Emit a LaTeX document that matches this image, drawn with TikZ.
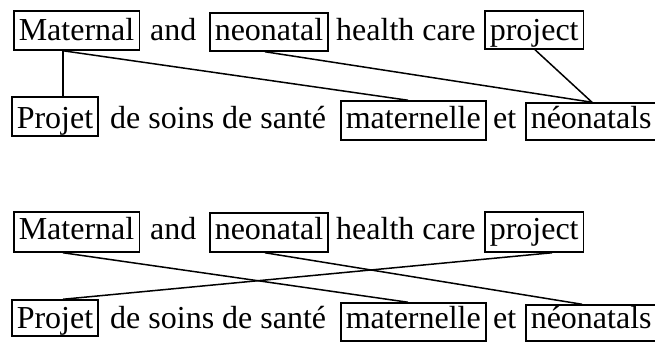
\documentclass[tikz,border=0pt]{standalone}
\usepackage{fontspec}
\setmainfont{Liberation Serif}
\begin{document}
\begin{tikzpicture}[x=1pt,y=-1pt,
  wordfont/.style={font=\fontsize{32}{38}\selectfont},
  plain/.style={wordfont,inner sep=0pt,anchor=base west},
  % boxed word: #1 = frame height above the baseline, #2 = depth below it
  wbox/.style 2 args={wordfont,draw,line width=1.5pt,inner xsep=5pt,inner ysep=0pt,
    text height=#1pt,text depth=#2pt,anchor=base west},
  link/.style={line width=1.5pt}]
\useasboundingbox (0,0) rectangle (655,341);

% upper pair: English above, French below
\node[wbox={29}{10}] (em1) at (13,40) {Maternal};
\node[plain] (ea1) at (150,40) {and};
\node[wbox={27}{11}] (en1) at (209,40) {neonatal};
\node[plain] (eh1) at (336,40) {health care};
\node[wbox={29}{9}] (ep1) at (484,40) {project};

\node[wbox={31}{8}] (fp1) at (11,128) {Projet};
\node[plain] (fd1) at (110,128) {de soins de santé};
\node[wbox={27}{12}] (fm1) at (340,128) {maternelle};
\node[plain] (fe1) at (493,128) {et};
\node[wbox={25}{12}] (fn1) at (525,128) {néonatals};

\draw[link] ([xshift=50pt]em1.south west) -- ([xshift=52pt]fp1.north west);
\draw[link] ([xshift=50pt]em1.south west) -- ([xshift=68pt]fm1.north west);
\draw[link] ([xshift=56pt]en1.south west) -- ([xshift=67pt]fn1.north west);
\draw[link] ([xshift=51pt]ep1.south west) -- ([xshift=67pt]fn1.north west);

% lower pair: same sentences, crossing alignment
\node[wbox={27}{13}] (em2) at (13,239) {Maternal};
\node[plain] (ea2) at (150,239) {and};
\node[wbox={26}{13}] (en2) at (209,239) {neonatal};
\node[plain] (eh2) at (336,239) {health care};
\node[wbox={27}{13}] (ep2) at (484,239) {project};

\node[wbox={28}{8}] (fp2) at (11,328) {Projet};
\node[plain] (fd2) at (110,328) {de soins de santé};
\node[wbox={25}{13}] (fm2) at (340,328) {maternelle};
\node[plain] (fe2) at (493,328) {et};
\node[wbox={23}{13}] (fn2) at (525,328) {néonatals};

\draw[link] ([xshift=50pt]em2.south west) -- ([xshift=68pt]fm2.north west);
\draw[link] ([xshift=56pt]en2.south west) -- ([xshift=57pt]fn2.north west);
\draw[link] ([xshift=68pt]ep2.south west) -- ([xshift=52pt]fp2.north west);
\end{tikzpicture}
\end{document}
